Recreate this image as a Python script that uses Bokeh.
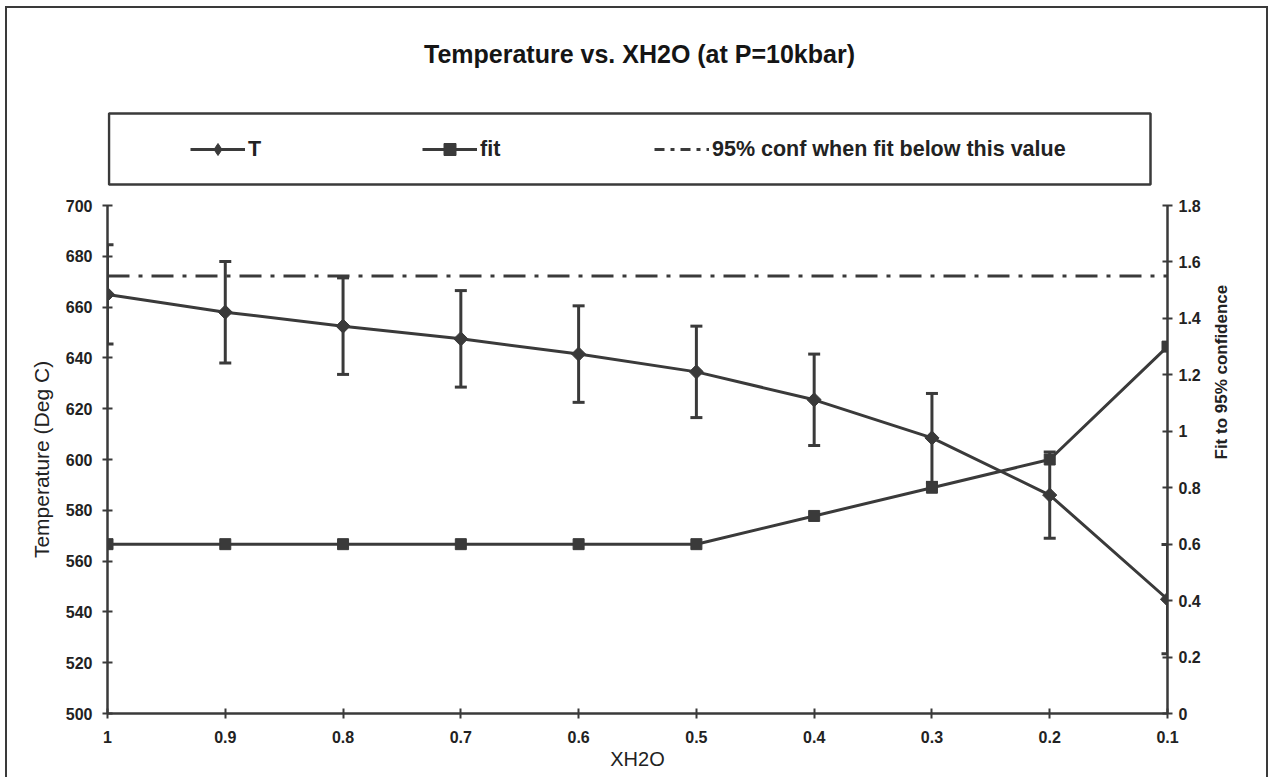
from bokeh.plotting import figure
from bokeh.layouts import column
from bokeh.models import (Range1d, LinearAxis, FixedTicker, NumeralTickFormatter, ColumnDataSource,
                          Whisker, TeeHead, Legend, LegendItem, Label, BoxAnnotation)
from bokeh.embed import file_html
from bokeh.resources import INLINE
import math

# ---- data ----
xh2o = [1.0, 0.9, 0.8, 0.7, 0.6, 0.5, 0.4, 0.3, 0.2, 0.1]
temperature = [665.0, 658.0, 652.5, 647.5, 641.5, 634.5, 623.5, 608.5, 586.0, 545.0]
temp_err = [19.5, 20.0, 19.0, 19.0, 19.0, 18.0, 18.0, 17.5, 17.0, 21.5]
fit = [0.6, 0.6, 0.6, 0.6, 0.6, 0.6, 0.7, 0.8, 0.9, 1.3]
conf_limit = [1.55, 1.55, 1.55, 1.55, 1.55, 1.55, 1.55, 1.55, 1.55, 1.55]

temp_ticks = [500, 520, 540, 560, 580, 600, 620, 640, 660, 680, 700]
fit_ticks = [0, 0.2, 0.4, 0.6, 0.8, 1.0, 1.2, 1.4, 1.6, 1.8]

title_text = "Temperature vs. XH2O (at P=10kbar)"
x_title = "XH2O"
y_title = "Temperature (Deg C)"
y2_title = "Fit to 95% confidence"
legend_labels = ["T", "fit", "95% conf when fit below this value"]

INK = "#3a3a3a"
TXT = "#222222"
FONT = "Liberation Sans"
W = 1259
HEAD_H = 182
MAIN_H = 587
MB_L, MB_R = 100, 99

src = ColumnDataSource(dict(
    x=xh2o, t=temperature, fit=fit, conf=conf_limit,
    upper=[t + e for t, e in zip(temperature, temp_err)],
    lower=[t - e for t, e in zip(temperature, temp_err)],
))

# ---------------- header (title + legend); data units = page pixels ----------------
head = figure(width=W, height=HEAD_H, x_range=Range1d(107, 1167), y_range=Range1d(190, 8),
              output_backend="svg", toolbar_location=None, title=None,
              x_axis_location=None, y_axis_location=None,
              min_border_left=MB_L, min_border_right=MB_R, min_border_top=0, min_border_bottom=0)
head.outline_line_color = None
head.grid.visible = False
head.background_fill_color = "white"
head.border_fill_color = "white"

head.add_layout(Label(x=639, y=53, text=title_text,
                      text_align="center", text_baseline="middle", text_font=FONT,
                      text_font_size="25px", text_font_style="bold", text_color="#151515"))

head.add_layout(BoxAnnotation(left=108.5, right=1150, top=113, bottom=184,
                              fill_alpha=0, line_color=INK, line_alpha=1.0, line_width=2.5))

# legend sample renderers (same data; lie outside this header's ranges, so only the legend shows)
lg_tl = head.line("x", "t", source=src, line_color=INK, line_width=3)
lg_ts = head.scatter("x", "t", source=src, marker="diamond", size=14,
                     fill_color=INK, line_color=INK)
lg_fl = head.line("x", "fit", source=src, line_color=INK, line_width=3)
lg_fs = head.scatter("x", "fit", source=src, marker="square", size=11, fill_color=INK, line_color=INK)
lg_cf = head.line("x", "conf", source=src, line_color=INK, line_width=3, line_dash="10 6 4 6")

leg = Legend(items=[LegendItem(label=legend_labels[0], renderers=[lg_tl, lg_ts]),
                    LegendItem(label=legend_labels[1], renderers=[lg_fl, lg_fs]),
                    LegendItem(label=legend_labels[2], renderers=[lg_cf])],
             location=(83, 26), orientation="horizontal",
             glyph_width=55, glyph_height=30, label_standoff=3, label_width=165, spacing=9,
             padding=0, margin=0, border_line_alpha=0, background_fill_alpha=0,
             label_text_font=FONT, label_text_font_size="21.5px", label_text_font_style="bold",
             label_text_color=TXT)
head.add_layout(leg)

# ---------------- main chart ----------------
p = figure(width=W, height=MAIN_H, x_range=Range1d(1.0, 0.1), y_range=Range1d(500, 700),
           output_backend="svg", toolbar_location=None, title=None,
           min_border_left=MB_L, min_border_right=MB_R, min_border_top=15, min_border_bottom=64)
p.extra_y_ranges = {"fit": Range1d(0, 1.8)}
p.outline_line_color = None
p.xgrid.visible = False
p.ygrid.visible = False
p.background_fill_color = "white"
p.border_fill_color = "white"

wh = Whisker(source=src, base="x", upper="upper", lower="lower", dimension="height",
             line_color=INK, line_width=3,
             upper_head=TeeHead(size=12, line_color=INK, line_width=3),
             lower_head=TeeHead(size=12, line_color=INK, line_width=3))
p.add_layout(wh)

r_conf = p.line("x", "conf", source=src, y_range_name="fit", line_color=INK, line_width=3,
                line_dash="22 9 4 9")
r_tl = p.line("x", "t", source=src, line_color=INK, line_width=3)
r_ts = p.scatter("x", "t", source=src, marker="square", angle=math.pi / 4, size=10,
                 fill_color=INK, line_color=INK)
r_fl = p.line("x", "fit", source=src, y_range_name="fit", line_color=INK, line_width=3)
r_fs = p.scatter("x", "fit", source=src, y_range_name="fit", marker="square", size=11,
                 fill_color=INK, line_color=INK)


def style_axis(ax, ticks, fmt=None):
    ax.ticker = FixedTicker(ticks=ticks)
    if fmt:
        ax.formatter = fmt
    ax.axis_line_color = INK
    ax.axis_line_width = 2.5
    ax.major_tick_line_color = INK
    ax.major_tick_line_width = 2
    ax.major_tick_in = 5
    ax.major_tick_out = 5
    ax.minor_tick_line_color = None
    ax.major_label_text_font = FONT
    ax.major_label_text_font_size = "16px"
    ax.major_label_text_font_style = "bold"
    ax.major_label_text_color = TXT
    ax.axis_label_text_font = FONT
    ax.axis_label_text_color = TXT


xa = p.xaxis[0]
style_axis(xa, xh2o, NumeralTickFormatter(format="0.[0]"))
xa.major_label_standoff = 12
xa.axis_label = x_title
xa.axis_label_text_font_size = "20px"
xa.axis_label_text_font_style = "normal"
xa.axis_label_standoff = 2

ya = p.yaxis[0]
style_axis(ya, temp_ticks)
ya.major_label_standoff = 10
ya.axis_label = y_title
ya.axis_label_text_font_size = "21px"
ya.axis_label_text_font_style = "normal"
ya.axis_label_standoff = 10

ya2 = LinearAxis(y_range_name="fit")
style_axis(ya2, fit_ticks, NumeralTickFormatter(format="0.[0]"))
ya2.major_label_standoff = 6
ya2.axis_label = y2_title
ya2.axis_label_text_font_size = "17px"
ya2.axis_label_text_font_style = "bold"
ya2.axis_label_standoff = 18
ya2.axis_label_orientation = math.pi / 2
p.add_layout(ya2, "right")

page = column(head, p, spacing=0,
              styles={"margin-left": "5px", "margin-top": "6px",
                      "border-top": "2px solid #3a3a3a", "border-left": "2px solid #3a3a3a",
                      "border-right": "2px solid #3a3a3a"})

open("out.html", "w").write(file_html(page, INLINE))
